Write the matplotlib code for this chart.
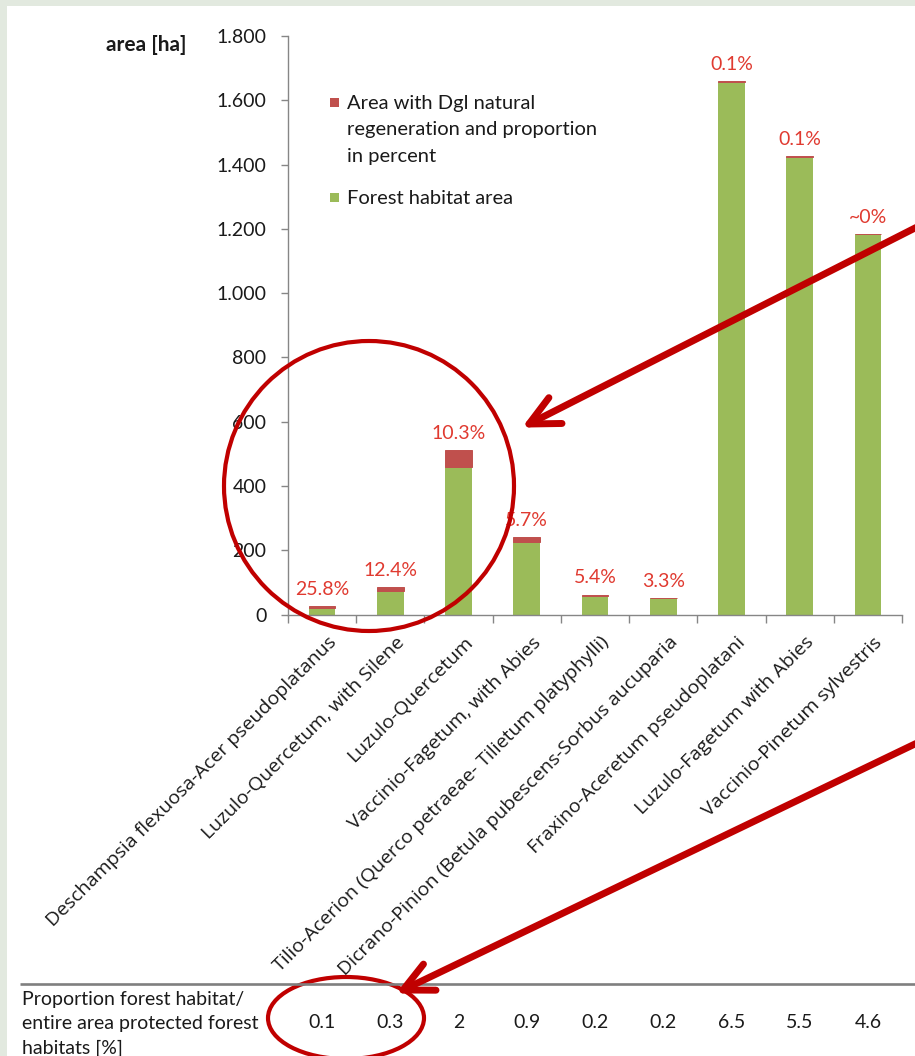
import matplotlib
matplotlib.use('Agg')
import matplotlib.pyplot as plt
import numpy as np
from matplotlib.patches import Rectangle, Ellipse
from matplotlib.lines import Line2D
import matplotlib.transforms as mtransforms

# ---------------- data ----------------
categories = [
    "Deschampsia flexuosa-Acer pseudoplatanus",
    "Luzulo-Quercetum, with Silene",
    "Luzulo-Quercetum",
    "Vaccinio-Fagetum, with Abies",
    "Tilio-Acerion (Querco petraeae- Tilietum platyphylli)",
    "Dicrano-Pinion (Betula pubescens-Sorbus aucuparia",
    "Fraxino-Aceretum pseudoplatani",
    "Luzulo-Fagetum with Abies",
    "Vaccinio-Pinetum sylvestris",
]
forest_area = [19, 74.5, 459, 227, 58.7, 50.3, 1658, 1424.6, 1182.5]
dgl_area = [6.7, 10.5, 53, 13.7, 3.3, 1.7, 1.7, 1.4, 0.5]
pct_labels = ["25.8%", "12.4%", "10.3%", "5.7%", "5.4%", "3.3%", "0.1%", "0.1%", "~0%"]
proportion = ["0.1", "0.3", "2", "0.9", "0.2", "0.2", "6.5", "5.5", "4.6"]
yticks = [0, 200, 400, 600, 800, 1000, 1200, 1400, 1600, 1800]
yticklabels = ["0", "200", "400", "600", "800", "1.000", "1.200", "1.400", "1.600", "1.800"]
legend_labels = ["Area with Dgl natural\nregeneration and proportion\nin percent",
                 "Forest habitat area"]
row_label = "Proportion forest habitat/\nentire area protected forest\nhabitats [%]"

# ---------------- style ----------------
GREEN = "#9bbb59"
RED = "#c0504d"
PCT = "#e03a30"
ANN = "#c00000"
AXC = "#868686"
TXT = "#1a1a1a"
FONT = ["Lato", "DejaVu Sans"]
plt.rcParams["font.family"] = FONT

W, H = 915, 1056
fig = plt.figure(figsize=(W / 100, H / 100), dpi=100, facecolor="#e2e9df")
fig.add_artist(Rectangle((7 / W, 0), 1 - 7 / W, 1 - 6 / H, transform=fig.transFigure,
                         facecolor="white", edgecolor="none", zorder=-10))

def fx(px):
    return px / W

def fy(py):
    return 1 - py / H

ax = fig.add_axes([fx(288), fy(614.5), fx(902) - fx(288), fy(36) - fy(614.5)])
ax.set_facecolor("none")
x = np.arange(len(categories))
totals = np.array(forest_area) + np.array(dgl_area)
ax.bar(x, forest_area, width=0.39, color=GREEN, zorder=2)
ax.bar(x, dgl_area, bottom=forest_area, width=0.39, color=RED, edgecolor=RED,
       linewidth=0.7, zorder=2)
ax.set_xlim(-0.5, len(categories) - 0.5)
ax.set_ylim(0, 1800)

for xi, t, lab in zip(x, totals, pct_labels):
    ax.annotate(lab, (xi, t), xytext=(0, 12), textcoords="offset points",
                ha="center", va="center", color=PCT, fontsize=14, zorder=3)

for s in ["top", "right"]:
    ax.spines[s].set_visible(False)
for s in ["left", "bottom"]:
    ax.spines[s].set_color(AXC)
    ax.spines[s].set_linewidth(1.0)

ax.set_yticks(yticks)
ax.set_yticklabels(yticklabels)
ax.tick_params(axis="y", direction="out", length=5, width=1, color=AXC,
               labelsize=14, pad=10.5, labelcolor=TXT)

ax.set_xticks(x)
ax.set_xticks(np.arange(-0.5, len(categories), 1.0), minor=True)
ax.tick_params(axis="x", which="minor", direction="out", length=5.5, width=1, color=AXC)
ax.tick_params(axis="x", which="major", length=0, pad=13.5)
ax.set_xticklabels(categories, rotation=45, ha="right", va="top",
                   rotation_mode="anchor", fontsize=14, family=["Open Sans", "DejaVu Sans"],
                   color=TXT)
shift = mtransforms.ScaledTranslation(5 / 100, 0, fig.dpi_scale_trans)
for lab in ax.get_xticklabels():
    lab.set_transform(lab.get_transform() + shift)

# y axis title
fig.text(fx(146), fy(45), "area [ha]", ha="center", va="center", fontsize=15,
         fontweight="bold", color=TXT)

# ---------------- overlay (pixel coords) ----------------
ov = fig.add_axes([0, 0, 1, 1], zorder=10)
ov.set_xlim(0, W)
ov.set_ylim(H, 0)
ov.axis("off")
ov.patch.set_alpha(0)

# legend
ov.add_patch(Rectangle((330, 98), 9, 9, facecolor=RED, edgecolor="none"))
ov.text(347, 130, legend_labels[0], ha="left", va="center", fontsize=14.5,
        linespacing=1.68, color=TXT)
ov.add_patch(Rectangle((330, 193), 9, 9, facecolor=GREEN, edgecolor="none"))
ov.text(347, 198, legend_labels[1], ha="left", va="center", fontsize=14.5, color=TXT)

# table row
ov.plot([20, W], [984, 984], color="#7f7f7f", lw=1.9, solid_capstyle="butt")
ov.text(22, 1024, row_label, ha="left", va="center", fontsize=14,
        linespacing=1.5, color=TXT)
btr = mtransforms.blended_transform_factory(ax.transData, fig.transFigure)
for xi, v in zip(x, proportion):
    fig.text(xi, fy(1023), v, transform=btr, ha="center", va="center",
             fontsize=14, color=TXT)

# annotations: ellipses and arrows
ov.add_patch(Ellipse((369, 486), 290, 290, facecolor="none", edgecolor=ANN, lw=3.0))
ov.add_patch(Ellipse((346, 1018), 156, 82, facecolor="none", edgecolor=ANN, lw=3.0))

def arrow(tail, tip, length=33, ang=26):
    dx, dy = tail[0] - tip[0], tail[1] - tip[1]
    base = np.arctan2(dy, dx)
    ends = []
    for sgn in (-1, 1):
        a = base + sgn * np.radians(ang)
        ends.append((tip[0] + length * np.cos(a), tip[1] + length * np.sin(a)))
    ov.add_line(Line2D([tail[0], tip[0]], [tail[1], tip[1]], color=ANN, lw=5,
                       solid_capstyle="round"))
    ov.add_line(Line2D([ends[0][0], tip[0], ends[1][0]], [ends[0][1], tip[1], ends[1][1]],
                       color=ANN, lw=5, solid_capstyle="round", solid_joinstyle="round"))

arrow((917, 227), (529, 424))
arrow((917, 743), (403, 990))

fig.savefig("out.png", dpi=100, facecolor=fig.get_facecolor())
